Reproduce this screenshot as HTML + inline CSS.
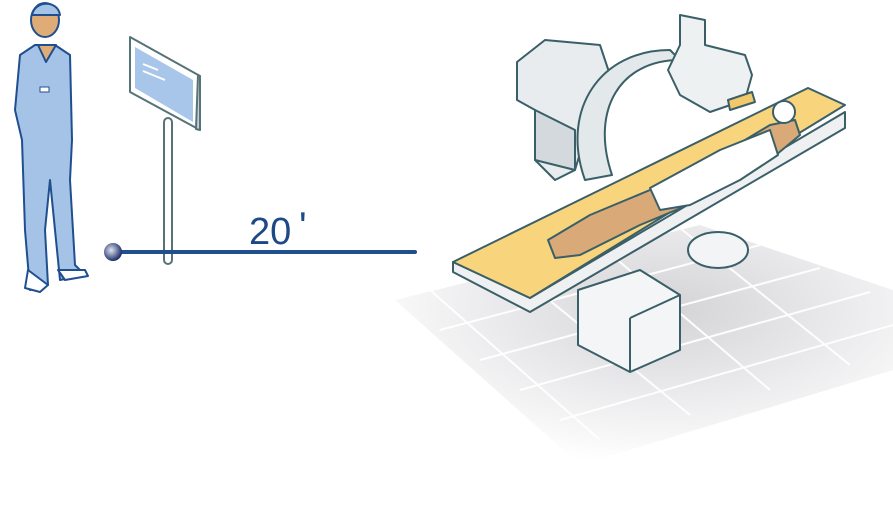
<!DOCTYPE html>
<html><head><meta charset="utf-8"><style>
html,body{margin:0;padding:0;background:#fff;width:893px;height:530px;overflow:hidden}
svg{display:block}
</style></head><body>
<svg width="893" height="530" viewBox="0 0 893 530" xmlns="http://www.w3.org/2000/svg">
<defs>
<radialGradient id="fl" cx="0.55" cy="0.35" r="0.65">
<stop offset="0" stop-color="#d4d3d6"/><stop offset="0.55" stop-color="#ebeaec"/><stop offset="1" stop-color="#ffffff"/>
</radialGradient>
<radialGradient id="ball" cx="0.4" cy="0.4" r="0.6">
<stop offset="0" stop-color="#dfe4f0"/><stop offset="1" stop-color="#1d2f6a"/>
</radialGradient>
</defs>
<polygon points="395,300 700,225 893,290 893,370 580,465" fill="url(#fl)"/>
<g stroke="#fff" stroke-width="2" opacity="0.95">
<line x1="440" y1="330" x2="760" y2="245"/>
<line x1="480" y1="360" x2="820" y2="268"/>
<line x1="520" y1="390" x2="870" y2="292"/>
<line x1="560" y1="420" x2="893" y2="325"/>
<line x1="430" y1="290" x2="600" y2="440"/>
<line x1="510" y1="268" x2="690" y2="415"/>
<line x1="600" y1="245" x2="770" y2="390"/>
<line x1="680" y1="228" x2="850" y2="365"/>
</g>
<g stroke="#3a5f68" stroke-width="2" stroke-linejoin="round">
<polygon points="578,290 640,270 680,295 680,350 630,372 578,345" fill="#f4f5f6"/>
<line x1="630" y1="318" x2="630" y2="372"/>
<line x1="630" y1="318" x2="680" y2="295"/>
<polygon points="517,62 545,40 600,45 610,75 590,120 575,170 555,180 535,160 535,110 517,100" fill="#e8ecee"/>
<polygon points="535,110 575,130 575,170 535,160" fill="#d3d9dc"/>
<path d="M585,180 C560,110 600,50 670,50 L680,60 C620,60 590,110 612,175 Z" fill="#e3e8ea"/>
<polygon points="680,15 705,20 705,45 745,55 752,75 745,100 710,112 680,95 668,70 680,45" fill="#eef1f2"/>
<polygon points="728,100 752,92 755,102 730,110" fill="#f2c96a"/>
<ellipse cx="718" cy="250" rx="30" ry="18" fill="#f2f4f5"/>
<polygon points="453,272 530,312 845,128 845,112 530,298 453,262" fill="#eef0f1"/>
<polygon points="453,262 808,88 845,105 530,298" fill="#f8d57d"/>
<path d="M548,240 L590,215 L650,190 L720,155 L770,125 L795,120 L800,135 L770,160 L700,200 L640,225 L580,255 L555,258 Z" fill="#d9aa78"/>
<path d="M650,188 L720,150 L770,130 L778,155 L740,180 L690,205 L660,210 Z" fill="#ffffff"/>
<circle cx="784" cy="112" r="11" fill="#fff"/>
</g>
<g stroke="#1f4f8f" stroke-width="2" stroke-linejoin="round">
<path d="M20,55 L35,45 L55,45 L70,55 L72,140 L70,180 L75,265 L85,275 L60,280 L55,230 L50,180 L45,230 L48,285 L30,290 L25,230 L22,140 L15,110 Z" fill="#a5c3e6"/>
<ellipse cx="45" cy="20" rx="14" ry="17" fill="#dfac78"/>
<path d="M32,15 C35,0 58,0 60,15 Z" fill="#a5c3e6"/>
<path d="M38,45 L46,62 L56,45 Z" fill="#dfac78"/>
<rect x="40" y="87" width="9" height="5" fill="#fff" stroke-width="1"/>
<path d="M28,270 L48,285 L40,292 L25,288 Z M58,270 L85,270 L88,276 L65,280 Z" fill="#fff"/>
</g>
<g stroke="#567378" stroke-width="2" stroke-linejoin="round">
<rect x="164" y="118" width="8" height="146" rx="4" fill="#fff"/>
<polygon points="130,37 200,76 200,130 130,92" fill="#fff"/>
<polygon points="135,47 193,80 193,122 135,88" fill="#a8c5ea" stroke="none"/>
<polygon points="200,76 198,75 196,129 200,130" fill="#ccd"/>
</g>
<g stroke="#fff" stroke-width="2"><line x1="143" y1="64" x2="158" y2="70"/><line x1="143" y1="71" x2="165" y2="80"/></g>
<line x1="113" y1="252" x2="415" y2="252" stroke="#1f4f8f" stroke-width="4" stroke-linecap="round"/>
<circle cx="113" cy="252" r="9" fill="url(#ball)"/>
<text x="249" y="244" font-family="Liberation Sans, sans-serif" font-size="38" fill="#1d4a86">20</text>
<text x="299" y="240" font-family="Liberation Sans, sans-serif" font-size="40" fill="#1d4a86">'</text>
</svg>
</body></html>
